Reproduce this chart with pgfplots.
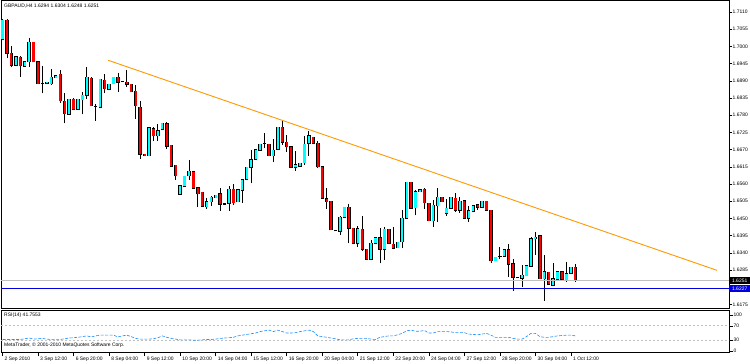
\documentclass[border=0pt]{standalone}
\usepackage{fontspec}
\setmainfont{Liberation Sans}
\usepackage{pgfplots}
\pgfplotsset{compat=1.18}
\usepackage{pgfplotstable}
\definecolor{bullc}{RGB}{0,255,255}
\definecolor{bearc}{RGB}{255,0,0}
\definecolor{rsic}{RGB}{30,144,255}
\definecolor{trendc}{RGB}{255,153,0}
\definecolor{silv}{RGB}{192,192,192}
\definecolor{supp}{RGB}{0,0,220}
\newcommand{\tf}{\fontsize{5}{6}\selectfont}

\pgfplotstableread{
i o h l c
1 1.70222 1.70862 1.70222 1.70840
4 1.69401 1.69689 1.69369 1.69668
6 1.69369 1.69529 1.69348 1.69508
7 1.69508 1.70265 1.69348 1.70126
11 1.68815 1.68847 1.68815 1.68847
12 1.68804 1.69263 1.68772 1.69018
13 1.68996 1.69060 1.68996 1.69060
16 1.67824 1.68303 1.67824 1.68303
18 1.67984 1.68303 1.67984 1.68303
19 1.68293 1.68549 1.67824 1.68442
20 1.68442 1.69327 1.68303 1.69007
23 1.68048 1.68943 1.68048 1.68943
25 1.68623 1.68794 1.68623 1.68794
26 1.68804 1.69007 1.68804 1.69007
34 1.66502 1.67397 1.66502 1.67397
36 1.67146 1.67519 1.66986 1.67305
37 1.67348 1.67540 1.67348 1.67540
41 1.65270 1.65536 1.65270 1.65536
42 1.65525 1.65845 1.65525 1.65845
43 1.65866 1.66367 1.65739 1.66005
47 1.64875 1.65163 1.64790 1.65035
48 1.65035 1.65216 1.64907 1.65174
49 1.65163 1.65238 1.65163 1.65238
52 1.64982 1.65536 1.64747 1.65429
54 1.65035 1.65408 1.65035 1.65408
55 1.65408 1.65760 1.65003 1.65728
56 1.65749 1.66133 1.65749 1.66133
57 1.66133 1.66687 1.65621 1.66367
58 1.66389 1.66687 1.66389 1.66687
59 1.66677 1.66868 1.66677 1.66868
62 1.66506 1.67028 1.66314 1.66677
63 1.66709 1.67412 1.66709 1.67412
67 1.66133 1.66655 1.66026 1.66208
68 1.66176 1.66261 1.66176 1.66261
69 1.66282 1.67135 1.66208 1.66868
70 1.66900 1.67295 1.66506 1.67135
77 1.64097 1.64587 1.63969 1.64534
78 1.64534 1.64854 1.64534 1.64854
81 1.63703 1.64257 1.63596 1.64161
84 1.63191 1.63809 1.63191 1.63703
85 1.63703 1.63884 1.63703 1.63884
87 1.63511 1.64236 1.63170 1.64150
90 1.63564 1.63735 1.63564 1.63735
91 1.63756 1.64769 1.63543 1.64502
92 1.64502 1.65653 1.64502 1.65653
94 1.64843 1.65408 1.64598 1.65355
95 1.65355 1.65408 1.65355 1.65408
98 1.64428 1.65088 1.64236 1.64918
99 1.64907 1.65472 1.64396 1.65174
101 1.64662 1.65110 1.64577 1.64822
102 1.64822 1.65174 1.64822 1.65174
104 1.64769 1.65195 1.64683 1.65046
106 1.64502 1.64897 1.64396 1.64737
107 1.64726 1.64907 1.64726 1.64907
109 1.64854 1.65046 1.64854 1.65046
112 1.63148 1.63255 1.63148 1.63255
114 1.63298 1.63490 1.63298 1.63490
118 1.62584 1.62999 1.62317 1.62679
119 1.62669 1.62978 1.62669 1.62978
120 1.62978 1.63916 1.62957 1.63852
121 1.63852 1.64065 1.63330 1.63895
123 1.62573 1.63330 1.61869 1.62786
125 1.62370 1.63063 1.62338 1.62573
126 1.62552 1.62786 1.62552 1.62786
128 1.62530 1.63106 1.62477 1.62722
129 1.62743 1.62935 1.62743 1.62935
}\bull

\pgfplotstableread{
i o h l c
2 1.70840 1.70862 1.69614 1.69774
3 1.69774 1.70009 1.69327 1.69401
5 1.69646 1.69689 1.69028 1.69380
8 1.70126 1.70147 1.69487 1.69508
9 1.69508 1.69529 1.68783 1.68804
10 1.68815 1.69369 1.68495 1.68815
14 1.69103 1.69241 1.68197 1.68261
15 1.68250 1.68495 1.67536 1.67845
17 1.68303 1.68346 1.67973 1.67994
21 1.68975 1.69007 1.68101 1.68101
22 1.68090 1.68154 1.67621 1.68090
24 1.68911 1.69103 1.68495 1.68645
27 1.69018 1.69156 1.68549 1.68858
28 1.68879 1.68890 1.68869 1.68879
29 1.68858 1.69241 1.68708 1.68783
30 1.68794 1.68794 1.68549 1.68549
31 1.68570 1.68751 1.67685 1.68101
32 1.68058 1.68261 1.66406 1.66545
33 1.66545 1.66545 1.66502 1.66502
35 1.67359 1.67433 1.66986 1.67146
38 1.67519 1.67583 1.66730 1.66815
39 1.66836 1.66836 1.66165 1.66165
40 1.66197 1.66197 1.65739 1.65866
44 1.65984 1.65984 1.65461 1.65461
45 1.65472 1.65504 1.64875 1.65291
46 1.65334 1.65334 1.64886 1.64886
50 1.65280 1.65472 1.64747 1.64950
51 1.64960 1.64960 1.64960 1.64960
53 1.65429 1.65600 1.64928 1.65003
60 1.66900 1.67220 1.66741 1.66900
61 1.66868 1.66868 1.66506 1.66506
64 1.67412 1.67625 1.66847 1.66932
65 1.66932 1.67167 1.66634 1.66794
66 1.66794 1.66794 1.66133 1.66133
71 1.67092 1.67092 1.66900 1.66900
72 1.66900 1.66975 1.66122 1.66154
73 1.66154 1.66154 1.65142 1.65142
74 1.65120 1.65461 1.64801 1.65035
75 1.65046 1.65046 1.64140 1.64140
76 1.64108 1.64120 1.64097 1.64108
79 1.64854 1.64960 1.63703 1.64182
80 1.64182 1.64182 1.63703 1.63703
82 1.64150 1.64577 1.63468 1.63511
83 1.63511 1.63511 1.63191 1.63191
86 1.63884 1.64182 1.63063 1.63511
88 1.64150 1.64150 1.63703 1.63703
89 1.63671 1.64214 1.63511 1.63543
93 1.65653 1.65653 1.64822 1.64822
96 1.65429 1.65472 1.64811 1.65003
97 1.64982 1.64982 1.64428 1.64428
100 1.65174 1.65174 1.65035 1.65035
103 1.65142 1.65323 1.64715 1.64769
105 1.65056 1.65056 1.64502 1.64502
108 1.64928 1.64960 1.64769 1.64854
110 1.65046 1.65046 1.64758 1.64758
111 1.64758 1.64769 1.63085 1.63148
113 1.63276 1.63575 1.63191 1.63276
115 1.63490 1.63681 1.62637 1.63031
116 1.63042 1.63202 1.62189 1.62615
117 1.62615 1.62630 1.62600 1.62615
122 1.63937 1.63937 1.62573 1.62573
124 1.62775 1.62775 1.62402 1.62402
127 1.62786 1.62786 1.62552 1.62552
130 1.62935 1.63042 1.62477 1.62509
}\bear

\pgfplotsset{mt/.style={
  scale only axis, width=728bp, xmin=0.66, xmax=164.6,
  axis line style={line width=1bp}, tick style={black, line width=0.6bp},
  tick align=outside, ytick pos=right, yticklabel pos=right,
  yticklabel style={font=\tf, anchor=west, inner sep=0.5bp},
  /pgf/number format/assume math mode=true, clip mode=individual}}

\begin{document}
\begin{tikzpicture}
\useasboundingbox (0,0) rectangle (750bp,-364bp);
\fill[white] (0,0) rectangle (750bp,-364bp);
\begin{axis}[mt, anchor=north west, at={(1bp,-1bp)}, height=308bp,
  ymin=1.61603, ymax=1.71452, xtick=\empty, major tick length=3bp,
  ytick={1.6175,1.6285,1.6340,1.6395,1.6450,1.6505,1.6560,1.6615,1.6670,1.6725,1.6780,1.6835,1.6890,1.6945,1.7000,1.7055,1.7110},
  yticklabel style={/pgf/number format/.cd, fixed, fixed zerofill, precision=4}]
% wicks
\addplot[forget plot, draw=none, error bars/.cd, y dir=plus, y explicit, error mark=none,
  error bar style={draw=black, line width=0.9bp}]
  table[x=i, y=l, y error plus expr={\thisrow{h}-\thisrow{l}}] {\bull};
\addplot[forget plot, draw=none, error bars/.cd, y dir=plus, y explicit, error mark=none,
  error bar style={draw=black, line width=0.9bp}]
  table[x=i, y=l, y error plus expr={\thisrow{h}-\thisrow{l}}] {\bear};
% body outlines
\addplot[forget plot, draw=none, error bars/.cd, y dir=plus, y explicit, error mark=none,
  error bar style={draw=black, line width=3.4bp}]
  table[x=i, y expr={\thisrow{o}-0.00019}, y error plus expr={\thisrow{c}-\thisrow{o}+0.00038}] {\bull};
\addplot[forget plot, draw=none, error bars/.cd, y dir=plus, y explicit, error mark=none,
  error bar style={draw=black, line width=3.4bp}]
  table[x=i, y expr={\thisrow{c}-0.00019}, y error plus expr={\thisrow{o}-\thisrow{c}+0.00038}] {\bear};
% body fills
\addplot[forget plot, draw=none, error bars/.cd, y dir=plus, y explicit, error mark=none,
  error bar style={draw=bullc, line width=2.2bp}]
  table[x=i, y=o, y error plus expr={\thisrow{c}-\thisrow{o}}] {\bull};
\addplot[forget plot, draw=none, error bars/.cd, y dir=plus, y explicit, error mark=none,
  error bar style={draw=bearc, line width=2.2bp}]
  table[x=i, y=c, y error plus expr={\thisrow{o}-\thisrow{c}}] {\bear};
% lines
\addplot[forget plot, silv, line width=0.9bp] coordinates {(0.66,1.62510) (164.6,1.62510)};
\addplot[forget plot, supp, line width=0.9bp] coordinates {(0.66,1.62265) (164.6,1.62265)};
\addplot[forget plot, trendc, line width=0.9bp] coordinates {(24.8,1.69556) (161.9,1.62839)};
\node[anchor=north west, font=\tf, inner sep=0] at (rel axis cs:0,1) [xshift=3bp, yshift=-3bp] {GBPAUD,H4 1.6294 1.6304 1.6248 1.6251};
\node[anchor=west, fill=black, text=white, font=\tf, inner sep=0, minimum width=21bp, minimum height=6.5bp] at (axis cs:164.6,1.62510) {1.6251};
\node[anchor=west, fill=supp, text=white, font=\tf, inner sep=0, minimum width=21bp, minimum height=6.5bp] at (axis cs:164.6,1.62265) {1.6227};
\end{axis}

\begin{axis}[mt, anchor=north west, at={(1bp,-310bp)}, height=42bp,
  ymin=-2.8, ymax=113.9, ytick={0,30,70,100}, major tick length=4bp,
  xtick={9,17,...,129}, xtick pos=bottom,
  xticklabels={3 Sep 12:00,6 Sep 20:00,8 Sep 04:00,9 Sep 12:00,10 Sep 20:00,14 Sep 04:00,15 Sep 12:00,16 Sep 20:00,20 Sep 04:00,21 Sep 12:00,22 Sep 20:00,24 Sep 04:00,27 Sep 12:00,28 Sep 20:00,30 Sep 04:00,1 Oct 12:00},
  extra x ticks={1}, extra x tick labels={2 Sep 2010},
  xticklabel style={font=\tf, anchor=north west, inner sep=0.5bp, xshift=1.5bp}]
\addplot[forget plot, silv, dash pattern=on 2bp off 2bp, line width=0.7bp] coordinates {(0.66,70) (164.6,70)};
\addplot[forget plot, silv, dash pattern=on 2bp off 2bp, line width=0.7bp] coordinates {(0.66,30) (164.6,30)};
\addplot[forget plot, rsic, line width=0.6bp, dash pattern=on 3bp off 1.5bp] coordinates {
(1,32) (2,32) (3,32) (4,32) (5,32) (6,34) (7,36) (8,33) (9,34) (10,35)
(11,33) (12,32) (13,31) (14,32) (15,34) (16,36) (17,37) (18,38) (19,40) (20,42)
(21,39) (22,42) (23,44) (24,44) (25,44) (26,44) (27,39) (28,42) (29,44) (30,40)
(31,35) (32,33) (33,33) (34,33) (35,34) (36,37) (37,42) (38,38) (39,35) (40,33)
(41,31) (42,31) (43,31) (44,30) (45,30) (46,31) (47,32) (48,32) (49,33) (50,35)
(51,36) (52,37) (53,38) (54,42) (55,44) (56,46) (57,48) (58,50) (59,54) (60,56)
(61,58) (62,54) (63,58) (64,54) (65,50) (66,50) (67,51) (68,54) (69,56) (70,58)
(71,54) (72,42) (73,40) (74,38) (75,36) (76,34) (77,31) (78,31) (79,31) (80,34)
(81,35) (82,35) (83,35) (84,33) (85,32) (86,38) (87,40) (88,42) (89,42) (90,45)
(91,49) (92,56) (93,58) (94,55) (95,55) (96,57) (97,50) (98,50) (99,54) (100,54)
(101,54) (102,53) (103,51) (104,51) (105,51) (106,47) (107,46) (108,45) (109,47) (110,49)
(111,44) (112,38) (113,38) (114,38) (115,38) (116,35) (117,33) (118,33) (119,40) (120,49)
(121,49) (122,40) (123,38) (124,38) (125,40) (126,42) (127,43) (128,44) (129,44) (130,42)};
\node[anchor=north west, font=\tf, inner sep=0] at (rel axis cs:0,1) [xshift=3bp, yshift=-3bp] {RSI(14) 41.7553};
\node[anchor=south west, font=\tf, inner sep=0] at (rel axis cs:0,0) [xshift=3bp, yshift=4bp] {MetaTrader, © 2001-2010 MetaQuotes Software Corp.};
\end{axis}
\end{tikzpicture}
\end{document}
